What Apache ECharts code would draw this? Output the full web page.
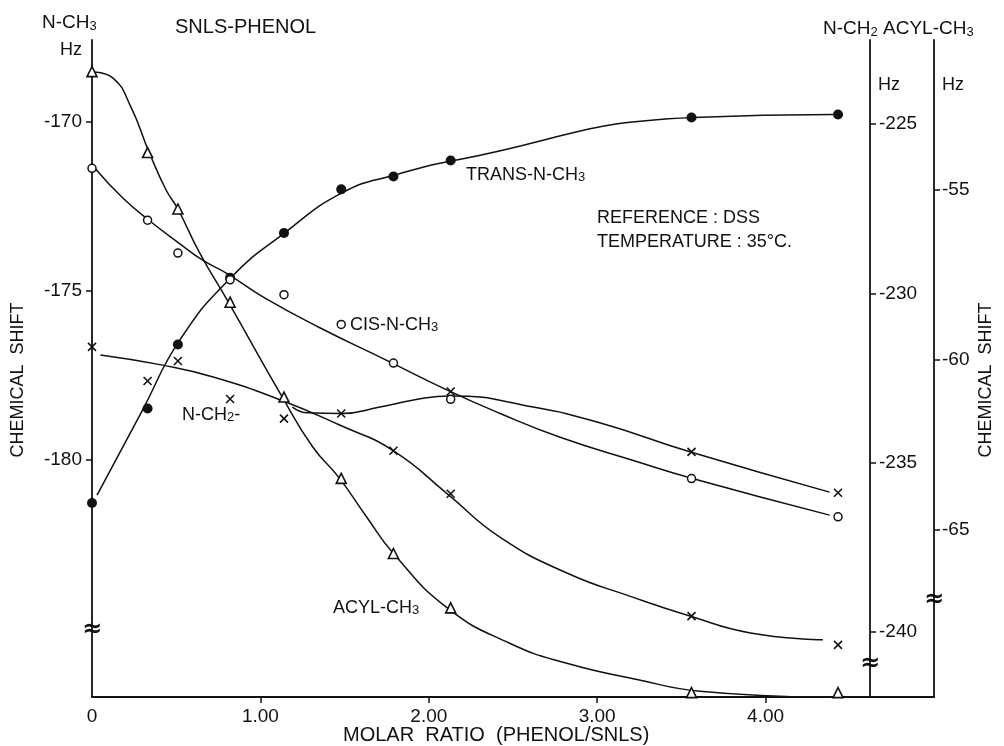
<!DOCTYPE html>
<html><head><meta charset="utf-8">
<script src="https://cdn.jsdelivr.net/npm/echarts@6/dist/echarts.min.js"></script>
<style>html,body{margin:0;padding:0;background:#fff}#c{width:1004px;height:746px}</style>
</head><body><div id="c"></div>
<script>
// ---- data ----
const ratios = [0, 0.33, 0.51, 0.82, 1.14, 1.48, 1.79, 2.13, 3.56, 4.43];
const xTickValues = [0, 1, 2, 3, 4];
const xTickLabels = ['0', '1.00', '2.00', '3.00', '4.00'];
const leftTicks = [-180, -175, -170];
const nch2Ticks = [-240, -235, -230, -225];
const acylTicks = [-65, -60, -55];

// measured points (markers)
const transNCH3 = [-181.27, -178.48, -176.59, -174.62, -173.30, -172.01, -171.63, -171.16, -169.89, -169.80];
const cisNCH3   = [-171.39, -172.92, -173.89, -174.68, -175.12, -176.00, -177.14, -178.21, -180.55, -181.68];
const acylCH3   = [-51.52, -53.90, -55.56, -58.30, -61.09, -63.48, -65.69, -67.29, -69.78, -69.78];
const nch2A     = [-231.58, null, -232.00, null, null, null, -234.65, -235.92, -239.53, -240.38];
const nch2B     = [null, -232.59, null, -233.12, -233.70, -233.55, null, -232.90, -234.68, -235.89];

// hand-drawn fitted curves
const transCurveX = [0.03, 0.30, 0.52, 0.82, 1.14, 1.49, 1.81, 2.15, 3.57, 4.40];
const transCurveY = [-181.04, -178.53, -176.47, -174.64, -173.31, -172.10, -171.57, -171.16, -169.89, -169.80];
const cisCurveX = [0.02, 0.18, 0.34, 0.52, 0.66, 0.80, 1.02, 1.35, 1.75, 2.11, 2.42, 2.78, 3.21, 3.56, 4.38];
const cisCurveY = [-171.40, -172.25, -172.93, -173.61, -174.11, -174.49, -175.20, -176.09, -177.06, -177.94, -178.62, -179.33, -180.01, -180.54, -181.63];
const acylCurveX = [0.01, 0.125, 0.23, 0.34, 0.44, 0.51, 0.64, 0.81, 1.13, 1.31, 1.47, 1.63, 1.79, 2.11, 2.48, 2.82, 3.25, 3.61, 4.34];
const acylCurveY = [-51.53, -51.71, -52.55, -53.90, -55.00, -55.56, -56.86, -58.30, -61.09, -62.55, -63.48, -64.61, -65.69, -67.29, -68.33, -68.92, -69.41, -69.74, -69.91];
const nch2ACurveX = [0.05, 0.42, 0.72, 1.12, 1.47, 1.79, 2.11, 2.42, 2.82, 3.21, 3.55, 3.91, 4.34];
const nch2ACurveY = [-231.82, -232.12, -232.47, -233.15, -233.89, -234.65, -235.92, -237.19, -238.26, -238.97, -239.53, -240.03, -240.23];
const nch2BCurveX = [1.19, 1.28, 1.48, 1.71, 1.91, 2.13, 2.62, 3.02, 3.55, 4.38];
const nch2BCurveY = [-233.36, -233.53, -233.55, -233.36, -233.15, -233.03, -233.36, -233.83, -234.68, -235.87];

// axis-break positions (axis values)
const breakLeft = -185.0, breakNch2 = -240.94, breakAcyl = -67.06;

// ---- chart ----
const FONT = '"Liberation Sans", Arial, sans-serif';
const INK = '#111';
const chart = echarts.init(document.getElementById('c'), null, {renderer: 'canvas'});

const pairs = (xs, ys) => xs.map((x, i) => [x, ys[i]]);
const marks = ys => ratios.map((x, i) => ys[i] == null ? null : [x, ys[i]]).filter(Boolean);

const lineS = (xs, ys, yi) => ({
  type: 'line', yAxisIndex: yi, data: pairs(xs, ys), smooth: 0.5,
  showSymbol: false, silent: true, z: 2, lineStyle: {color: INK, width: 1.5}
});
const scat = (ys, yi, symbol, size, fill, bw) => ({
  type: 'scatter', yAxisIndex: yi, data: marks(ys), symbol: symbol, symbolSize: size, z: 3,
  itemStyle: {color: fill, borderColor: INK, borderWidth: bw, opacity: 1}
});
const CROSS = 'path://M0,0L10,10M10,0L0,10';

const yBase = {
  type: 'value', splitLine: {show: false},
  axisLine: {show: true, lineStyle: {color: INK, width: 1.8}},
  axisTick: {show: true, length: 6, lineStyle: {color: INK, width: 1.5}},
  axisLabel: {color: INK, fontSize: 19, fontFamily: FONT}
};

chart.setOption({
  animation: false,
  backgroundColor: '#fff',
  grid: {left: 92, right: 70, top: 40, bottom: 49, containLabel: false},
  xAxis: {
    type: 'value', min: 0, max: 5, interval: 1,
    splitLine: {show: false},
    axisLine: {lineStyle: {color: INK, width: 1.8}},
    axisTick: {customValues: [1, 2, 3, 4], length: 6, lineStyle: {color: INK, width: 1.5}},
    axisLabel: {customValues: xTickValues, color: INK, fontSize: 19, fontFamily: FONT, margin: 10,
      formatter: v => xTickLabels[xTickValues.indexOf(v)] || ''}
  },
  yAxis: [
    Object.assign({}, yBase, {position: 'left', min: -187.0, max: -167.6,
      axisTick: Object.assign({}, yBase.axisTick, {customValues: leftTicks}),
      axisLabel: Object.assign({}, yBase.axisLabel, {customValues: leftTicks, margin: 10})}),
    Object.assign({}, yBase, {position: 'right', offset: -64, min: -241.92, max: -222.52,
      axisTick: Object.assign({}, yBase.axisTick, {customValues: nch2Ticks}),
      axisLabel: Object.assign({}, yBase.axisLabel, {customValues: nch2Ticks, margin: 9})}),
    Object.assign({}, yBase, {position: 'right', offset: 0, min: -69.91, max: -50.59,
      axisTick: Object.assign({}, yBase.axisTick, {customValues: acylTicks}),
      axisLabel: Object.assign({}, yBase.axisLabel, {customValues: acylTicks, margin: 8})})
  ],
  series: [
    lineS(transCurveX, transCurveY, 0),
    lineS(cisCurveX, cisCurveY, 0),
    lineS(acylCurveX, acylCurveY, 2),
    lineS(nch2ACurveX, nch2ACurveY, 1),
    lineS(nch2BCurveX, nch2BCurveY, 1),
    scat(transNCH3, 0, 'circle', 10, INK, 0),
    scat(cisNCH3, 0, 'circle', 8, '#fff', 1.5),
    scat(acylCH3, 2, 'triangle', 10, '#fff', 1.6),
    scat(nch2A, 1, CROSS, 8, 'none', 1.6),
    scat(nch2B, 1, CROSS, 8, 'none', 1.6)
  ]
});

// ---- text & decorations ----
const rich = {s: {fontSize: 13, lineHeight: 13, verticalAlign: 'bottom', fontFamily: FONT, fill: INK}};
function txt(text, x, y, size, opts) {
  return Object.assign({
    type: 'text', x: x, y: y, z: 10, silent: true,
    style: {text: text, fill: INK, font: size + 'px ' + FONT, textAlign: 'left', textVerticalAlign: 'middle', rich: rich}
  }, opts || {});
}
const xL = chart.convertToPixel({xAxisIndex: 0}, 0);
const xR2 = chart.convertToPixel({xAxisIndex: 0}, 5);
const xR1 = xR2 - 64;
const g = [
  txt('N-CH{s|3}', 42, 23, 19),
  txt('Hz', 60, 50, 18),
  txt('SNLS-PHENOL', 175, 27, 20),
  txt('N-CH{s|2} ACYL-CH{s|3}', 823, 29, 19),
  txt('Hz', 878, 85, 18),
  txt('Hz', 942, 85, 18),
  txt('REFERENCE : DSS', 597, 218, 18),
  txt('TEMPERATURE : 35°C.', 597, 242, 18),
  txt('TRANS-N-CH{s|3}', 466, 175, 18),
  txt('CIS-N-CH{s|3}', 350, 325, 18),
  txt('N-CH{s|2}-', 182, 415, 18),
  txt('ACYL-CH{s|3}', 333, 608, 18),
  txt('MOLAR  RATIO  (PHENOL/SNLS)', 343, 735, 20),
  {type: 'text', x: 18, y: 380, rotation: Math.PI / 2, silent: true,
   style: {text: 'CHEMICAL  SHIFT', fill: INK, font: '18px ' + FONT, textAlign: 'center', textVerticalAlign: 'middle'}},
  {type: 'text', x: 986, y: 380, rotation: Math.PI / 2, silent: true,
   style: {text: 'CHEMICAL  SHIFT', fill: INK, font: '18px ' + FONT, textAlign: 'center', textVerticalAlign: 'middle'}}
];
[[xL, chart.convertToPixel({yAxisIndex: 0}, breakLeft)],
 [xR1, chart.convertToPixel({yAxisIndex: 1}, breakNch2)],
 [xR2, chart.convertToPixel({yAxisIndex: 2}, breakAcyl)]].forEach(p => {
  g.push({type: 'text', x: p[0], y: p[1], silent: true, z: 10,
    style: {text: '≈', fill: INK, font: 'bold 24px "DejaVu Sans", sans-serif', textAlign: 'center', textVerticalAlign: 'middle'}});
});
chart.setOption({graphic: g});
</script>
</body></html>
